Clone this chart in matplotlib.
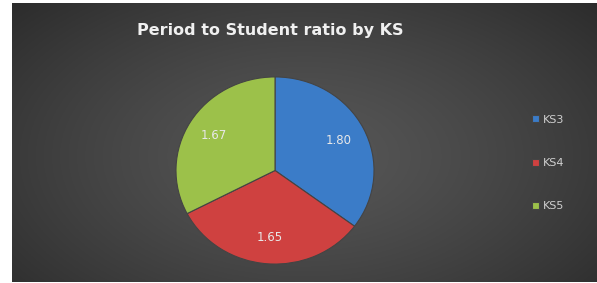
import numpy as np
import matplotlib.pyplot as plt

# data
stages = ['KS3', 'KS4', 'KS5']
ratios = [1.80, 1.65, 1.67]
colors = ['#3b7cc8', '#cf4140', '#9cc14a']

fig = plt.figure(figsize=(5.97, 2.83), dpi=100)
fig.patch.set_facecolor('white')

# dark panel with radial gradient
W, H = 597, 283
bg = fig.add_axes([12 / W, 1 / H, 585 / W, 279 / H])
yy, xx = np.mgrid[0:1:200j, 0:1:400j]
d = np.sqrt(((xx - 0.5) / 0.75) ** 2 + ((yy - 0.55) / 0.9) ** 2)
shade = 0.34 - 0.19 * np.clip(d, 0, 1) ** 1.3
bg.imshow(np.dstack([shade] * 3), aspect='auto', extent=[0, 1, 0, 1])
bg.set_axis_off()

# pie
ax = fig.add_axes([175 / W, (H - 265) / H, 200 / W, 189 / H])
wedges, texts = ax.pie(ratios, colors=colors, startangle=90, counterclock=False,
                       labels=[f'{r:.2f}' for r in ratios], labeldistance=0.72,
                       wedgeprops=dict(linewidth=0.8, edgecolor='#444444'),
                       textprops=dict(color='#e8e8e8', fontsize=8.5))
for t in texts:
    t.set_ha('center')
    t.set_va('center')
ax.set_aspect('auto')
ax.set_xlim(-1.01, 1.01)
ax.set_ylim(-1.01, 1.01)

fig.text(270 / W, 1 - 31 / H, 'Period to Student ratio by KS', color='#f0f0f0',
         fontsize=11.5, fontweight='bold', ha='center', va='center')

# legend
leg = fig.legend(wedges, stages, loc='center left', bbox_to_anchor=(522 / W, 1 - 163 / H),
                 frameon=False, fontsize=8, labelcolor='#d0d0d0', handlelength=0.6,
                 handleheight=0.6, handletextpad=0.4, labelspacing=3.0)

fig.savefig('out.png', dpi=100)
